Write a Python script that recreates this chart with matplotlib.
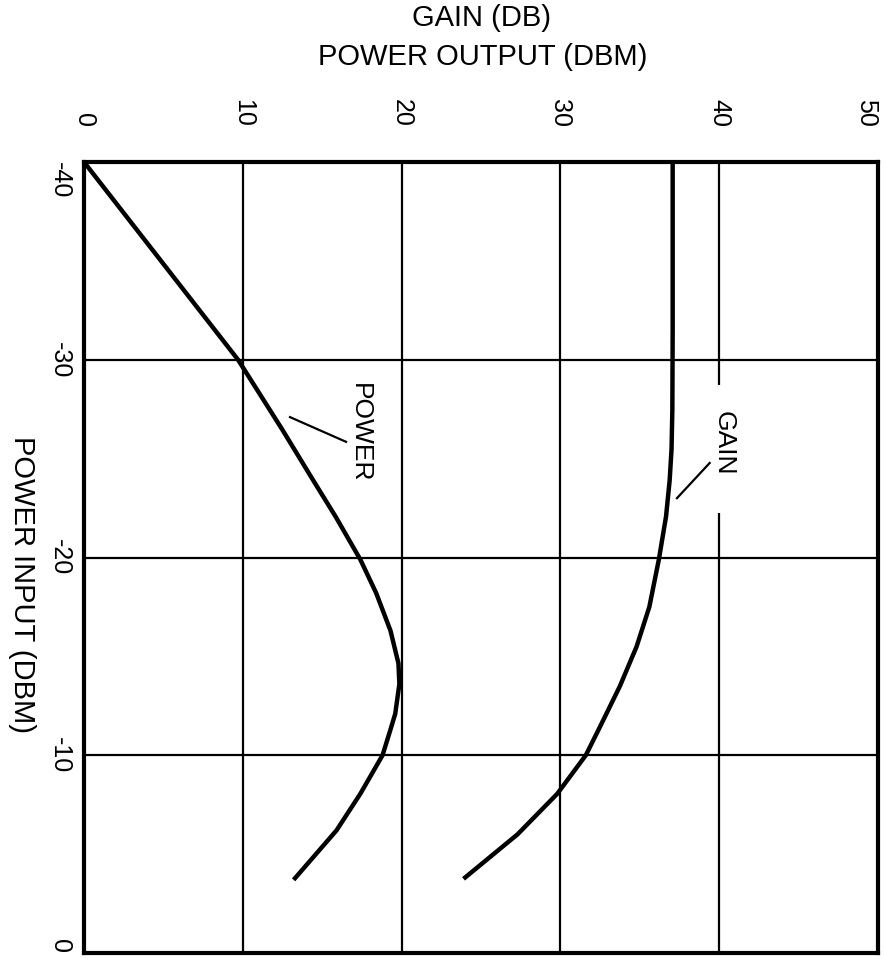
import matplotlib
matplotlib.use("Agg")
import matplotlib.pyplot as plt

# Power input (dBm) vs power output (dBm) / gain (dB)
power_in = [-40, -35, -30, -28.1, -26.45, -25.0, -23.75, -22.06, -19.9, -18.2, -16.3, -14.65,
            -13.6, -12.1, -11.3, -10, -8.05, -6.2, -3.7]
power_out = [0, 4.85, 9.7, 11.2, 12.5, 13.6, 14.55, 15.85, 17.4, 18.4, 19.3, 19.8,
             19.86, 19.6, 19.3, 18.8, 17.4, 15.9, 13.2]

gain_in = [-40, -35, -31.5, -27.5, -25.5, -23.9, -22.06, -19.9, -17.5, -15.5, -13.5,
           -11.45, -10, -8.05, -6.0, -3.75]
gain_db = [37.07, 37.07, 37.07, 37.05, 37.0, 36.88, 36.65, 36.2, 35.6, 34.8, 33.75,
           32.5, 31.6, 29.8, 27.3, 23.9]

x_ticks = [0, 10, 20, 30, 40, 50]
x_labels = ["0", "10", "20", "30", "40", "50"]
y_ticks = [-40, -30, -20, -10, 0]
y_labels = ["-40", "-30", "-20", "-10", "0"]

plt.rcParams['font.family'] = ['Liberation Sans', 'DejaVu Sans']

fig = plt.figure(figsize=(8.85, 9.59), dpi=100)
ax = fig.add_axes([84 / 885, 6 / 959, 794 / 885, 791 / 959])

ax.set_xlim(0, 50)
ax.set_ylim(0, -40)

# grid (the 40 line is broken where the GAIN label sits)
for xv in [10, 20, 30]:
    ax.axvline(xv, color='black', lw=1.6, zorder=1)
ax.vlines([40, 40], [-40, -22.25], [-28.7, 0], color='black', lw=1.6, zorder=1)
for yv in [-30, -20, -10]:
    ax.axhline(yv, color='black', lw=1.6, zorder=1)

# curves
ax.plot(power_out, power_in, color='black', lw=3.2, zorder=3,
        solid_joinstyle='round', solid_capstyle='butt')
ax.plot(gain_db, gain_in, color='black', lw=3.2, zorder=3,
        solid_joinstyle='round', solid_capstyle='butt')

# curve labels with leader lines
ax.text(17.4, -26.3, "POWER", rotation=270, ha='center', va='center',
        fontsize=19, zorder=4)
ax.plot([12.97, 16.5], [-27.1, -25.85], color='black', lw=1.6, zorder=3)
ax.text(40.25, -25.8, "GAIN", rotation=270, ha='center', va='center',
        fontsize=19, zorder=4)
ax.plot([39.4, 37.34], [-24.78, -23.0], color='black', lw=1.6, zorder=3)

# axes frame and ticks
for sp in ax.spines.values():
    sp.set_linewidth(3)
ax.xaxis.tick_top()
ax.set_xticks(x_ticks)
ax.set_xticklabels(x_labels, rotation=270, fontsize=18)
ax.set_yticks(y_ticks)
ax.set_yticklabels(y_labels, rotation=270, fontsize=18, va='center')
ax.tick_params(axis='x', length=0, pad=25)
ax.tick_params(axis='y', length=0, pad=9)

xlabs = ax.get_xticklabels()
xlabs[-1].set_ha('right')
ylabs = ax.get_yticklabels()
ylabs[0].set_va('top')
ylabs[-1].set_va('bottom')

fig.text(482 / 885, 1 - 18 / 959, "GAIN (DB)", ha='center', va='center', fontsize=21)
fig.text(483 / 885, 1 - 57 / 959, "POWER OUTPUT (DBM)", ha='center', va='center', fontsize=21)
fig.text(22 / 885, 1 - 585 / 959, "POWER INPUT (DBM)", ha='center', va='center',
         rotation=270, fontsize=21)

fig.savefig("out.png", dpi=100, facecolor='white')
